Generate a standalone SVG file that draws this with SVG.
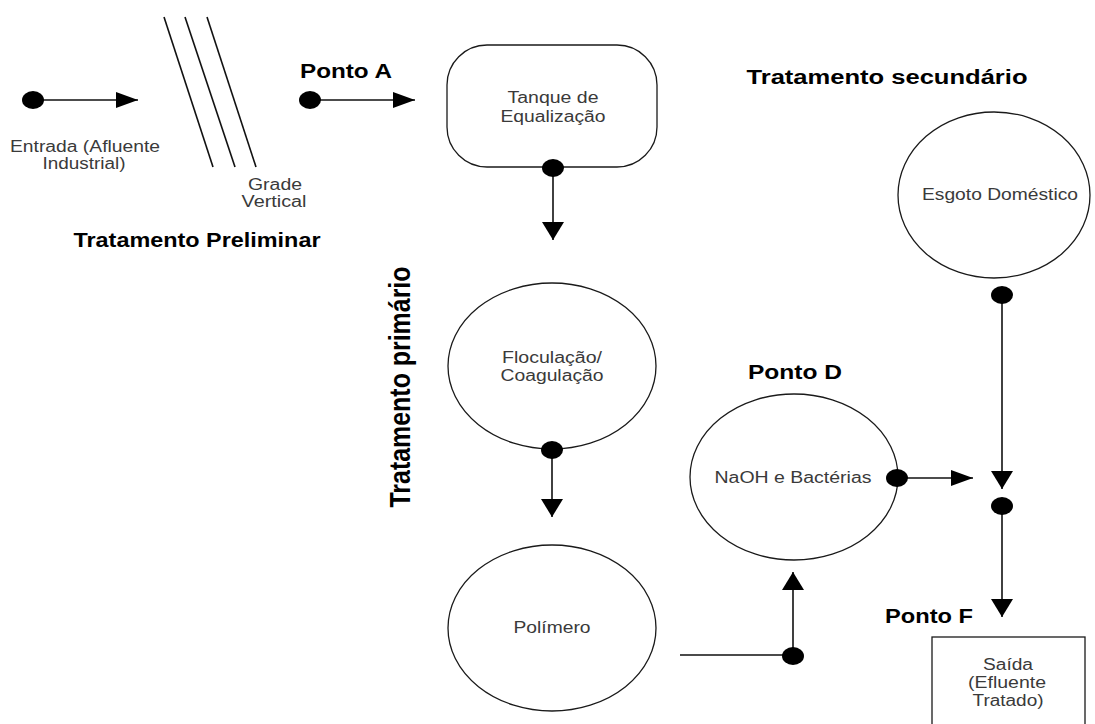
<svg xmlns="http://www.w3.org/2000/svg" width="1095" height="724" viewBox="0 0 1095 724">
<style>
.shape{fill:#fff;stroke:#1a1a1a;stroke-width:1.3}
.ln{fill:none;stroke:#111;stroke-width:1.6}
.dot{fill:#000}
.t{font-family:"Liberation Sans",Arial,sans-serif;font-size:16px;fill:#3a3a3a;text-anchor:middle}
.b{font-family:"Liberation Sans",Arial,sans-serif;font-size:20px;font-weight:bold;fill:#000;text-anchor:middle}
</style>
<defs>
<marker id="ah" markerUnits="userSpaceOnUse" markerWidth="22" markerHeight="16" refX="22" refY="8" orient="auto"><path d="M0,0 L22,8 L0,16 z" fill="#000"/></marker>
<marker id="av" markerUnits="userSpaceOnUse" markerWidth="18" markerHeight="22" refX="18" refY="11" orient="auto"><path d="M0,0 L18,11 L0,22 z" fill="#000"/></marker>
</defs>
<rect width="1095" height="724" fill="#fff"/>

<g id="entrada">
<text class="t" x="85" y="152" textLength="150" lengthAdjust="spacingAndGlyphs">Entrada (Afluente</text>
<text class="t" x="84" y="169" textLength="83" lengthAdjust="spacingAndGlyphs">Industrial)</text>
</g>

<g id="grade">
<line class="ln" x1="164" y1="17" x2="213" y2="167" stroke-width="1.3"/>
<line class="ln" x1="185" y1="17" x2="235" y2="167" stroke-width="1.3"/>
<line class="ln" x1="207" y1="17" x2="256" y2="167" stroke-width="1.3"/>
<text class="t" x="275" y="190" textLength="54" lengthAdjust="spacingAndGlyphs">Grade</text>
<text class="t" x="274" y="207" textLength="65" lengthAdjust="spacingAndGlyphs">Vertical</text>
</g>

<g id="label-preliminar">
<text class="b" x="197" y="247" textLength="247" lengthAdjust="spacingAndGlyphs">Tratamento Preliminar</text>
</g>
<g id="label-ponto-a">
<text class="b" x="346" y="78" textLength="92" lengthAdjust="spacingAndGlyphs">Ponto A</text>
</g>

<g id="tanque">
<rect class="shape" x="447" y="45" width="210" height="122" rx="40" ry="40"/>
<text class="t" x="553" y="103" textLength="91" lengthAdjust="spacingAndGlyphs">Tanque de</text>
<text class="t" x="553" y="122" textLength="105" lengthAdjust="spacingAndGlyphs">Equalização</text>
</g>

<g id="label-secundario">
<text class="b" x="887" y="84" textLength="281" lengthAdjust="spacingAndGlyphs">Tratamento secundário</text>
</g>

<g id="esgoto">
<ellipse class="shape" cx="994" cy="195" rx="96" ry="83"/>
<text class="t" x="1000" y="200" textLength="156" lengthAdjust="spacingAndGlyphs">Esgoto Doméstico</text>
</g>

<g id="label-primario">
<text class="b" font-size="25" transform="translate(410,387) scale(1.45,1) rotate(-90)" textLength="241" lengthAdjust="spacingAndGlyphs">Tratamento primário</text>
</g>

<g id="floculacao">
<ellipse class="shape" cx="552" cy="366" rx="104" ry="83"/>
<text class="t" x="552" y="363" textLength="100" lengthAdjust="spacingAndGlyphs">Floculação/</text>
<text class="t" x="552" y="381" textLength="103" lengthAdjust="spacingAndGlyphs">Coagulação</text>
</g>

<g id="polimero">
<ellipse class="shape" cx="552" cy="628" rx="104" ry="83"/>
<text class="t" x="552" y="633" textLength="77" lengthAdjust="spacingAndGlyphs">Polímero</text>
</g>

<g id="label-ponto-d">
<text class="b" x="795" y="379" textLength="94" lengthAdjust="spacingAndGlyphs">Ponto D</text>
</g>

<g id="naoh">
<ellipse class="shape" cx="794" cy="477" rx="104" ry="83"/>
<text class="t" x="793" y="483" textLength="157" lengthAdjust="spacingAndGlyphs">NaOH e Bactérias</text>
</g>

<g id="label-ponto-f">
<text class="b" x="929" y="623" textLength="88" lengthAdjust="spacingAndGlyphs">Ponto F</text>
</g>

<g id="saida">
<rect class="shape" x="932" y="637" width="153" height="100"/>
<text class="t" x="1008" y="670" textLength="50" lengthAdjust="spacingAndGlyphs">Saída</text>
<text class="t" x="1007" y="688" textLength="78" lengthAdjust="spacingAndGlyphs">(Efluente</text>
<text class="t" x="1008" y="706" textLength="71" lengthAdjust="spacingAndGlyphs">Tratado)</text>
</g>

<g id="connectors">
<line class="ln" x1="33" y1="100" x2="138" y2="100" marker-end="url(#ah)"/>
<ellipse class="dot" cx="33" cy="100" rx="11" ry="9"/>
<line class="ln" x1="310" y1="100" x2="415" y2="100" marker-end="url(#ah)"/>
<ellipse class="dot" cx="310" cy="100" rx="11" ry="9"/>
<line class="ln" x1="553" y1="168" x2="553" y2="240" marker-end="url(#av)"/>
<ellipse class="dot" cx="553" cy="168" rx="11" ry="9"/>
<line class="ln" x1="552" y1="450" x2="552" y2="517" marker-end="url(#av)"/>
<ellipse class="dot" cx="552" cy="450" rx="11" ry="9"/>
<polyline class="ln" points="680,655 793,655 793,572" marker-end="url(#av)"/>
<ellipse class="dot" cx="793" cy="656" rx="11" ry="9"/>
<line class="ln" x1="897" y1="478" x2="973" y2="478" marker-end="url(#ah)"/>
<ellipse class="dot" cx="897" cy="478" rx="11" ry="9"/>
<line class="ln" x1="1002" y1="295" x2="1002" y2="489" marker-end="url(#av)"/>
<ellipse class="dot" cx="1002" cy="295" rx="11" ry="9"/>
<line class="ln" x1="1002" y1="506" x2="1002" y2="617" marker-end="url(#av)"/>
<ellipse class="dot" cx="1002" cy="506" rx="11" ry="9"/>
</g>
</svg>
